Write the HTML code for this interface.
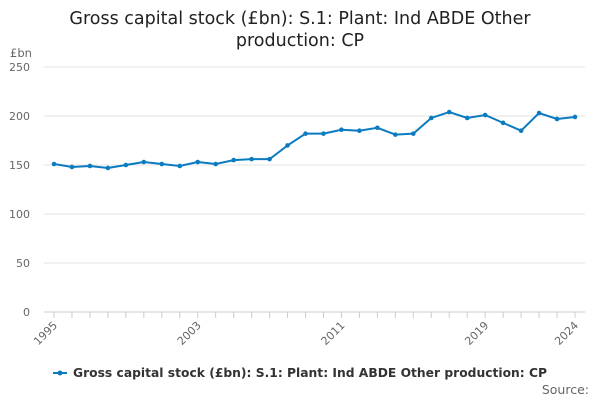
<!DOCTYPE html>
<html><head><meta charset="utf-8"><style>
body{margin:0;background:#fff;font-family:"DejaVu Sans","Liberation Sans",sans-serif;}
</style></head><body>
<svg width="600" height="400" xmlns="http://www.w3.org/2000/svg" font-family="DejaVu Sans, Liberation Sans, sans-serif">
<text x="300" y="24" text-anchor="middle" font-size="17.5" fill="#222">Gross capital stock (£bn): S.1: Plant: Ind ABDE Other</text>
<text x="300" y="46" text-anchor="middle" font-size="17.5" fill="#222">production: CP</text>
<text x="10" y="57" font-size="11.5" fill="#666">£bn</text>
<g id="grid"></g><g id="xaxis"></g><g id="series"></g>
<line x1="53" y1="373" x2="67" y2="373" stroke="#0b7bc1" stroke-width="2"/>
<circle cx="60" cy="373" r="2.5" fill="#0b7bc1"/>
<text x="73" y="377" font-size="12.3" font-weight="bold" fill="#333">Gross capital stock (£bn): S.1: Plant: Ind ABDE Other production: CP</text>
<text x="589" y="394" text-anchor="end" font-size="12.5" fill="#666">Source:</text>
</svg>
<script>
const years=[1995,1996,1997,1998,1999,2000,2001,2002,2003,2004,2005,2006,2007,2008,2009,2010,2011,2012,2013,2014,2015,2016,2017,2018,2019,2020,2021,2022,2023,2024];
const values=[151,148,149,147,150,153,151,149,153,151,155,156,156,170,182,182,186,185,188,181,182,198,204,198,201,193,185,203,197,199];
const yTicks=[0,50,100,150,200,250];
const xTickLabels=[1995,2003,2011,2019,2024];
const NS="http://www.w3.org/2000/svg";
const X=y=>54+(y-1995)*(575-54)/29;
const Y=v=>312-v*(312-67)/250;
function mk(t,a,p){const e=document.createElementNS(NS,t);for(const k in a)e.setAttribute(k,a[k]);p.appendChild(e);return e;}
const g=document.getElementById('grid');
yTicks.forEach(t=>{
 const l=mk('line',{x1:44,x2:585,y1:Y(t),y2:Y(t),stroke:t===0?'#ccc':'#e3e3e3','stroke-width':1},g);
 
 
 const tx=mk('text',{x:30,y:Y(t)+4,'text-anchor':'end','font-size':11,fill:'#666'},g);
 tx.textContent=t;
 
 
});
const xa=document.getElementById('xaxis');
years.forEach(y=>{
 const l=mk('line',{x1:X(y),x2:X(y),y1:312,y2:318,stroke:'#ccc'},xa);
 
 
});
xTickLabels.forEach(y=>{
 const t=mk('text',{x:X(y)+4,y:326,'text-anchor':'end','font-size':11,fill:'#666',transform:`rotate(-45 ${X(y)+4} 326)`},xa);
 t.textContent=y;
 
 
});
const s=document.getElementById('series');
const p=mk('polyline',{points:years.map((y,i)=>X(y)+','+Y(values[i])).join(' '),fill:'none',stroke:'#0b7bc1','stroke-width':2},s);


years.forEach((y,i)=>{
 const c=mk('circle',{cx:X(y),cy:Y(values[i]),r:2.3,fill:'#0b7bc1'},s);
 
 
});
</script>
</body></html>
